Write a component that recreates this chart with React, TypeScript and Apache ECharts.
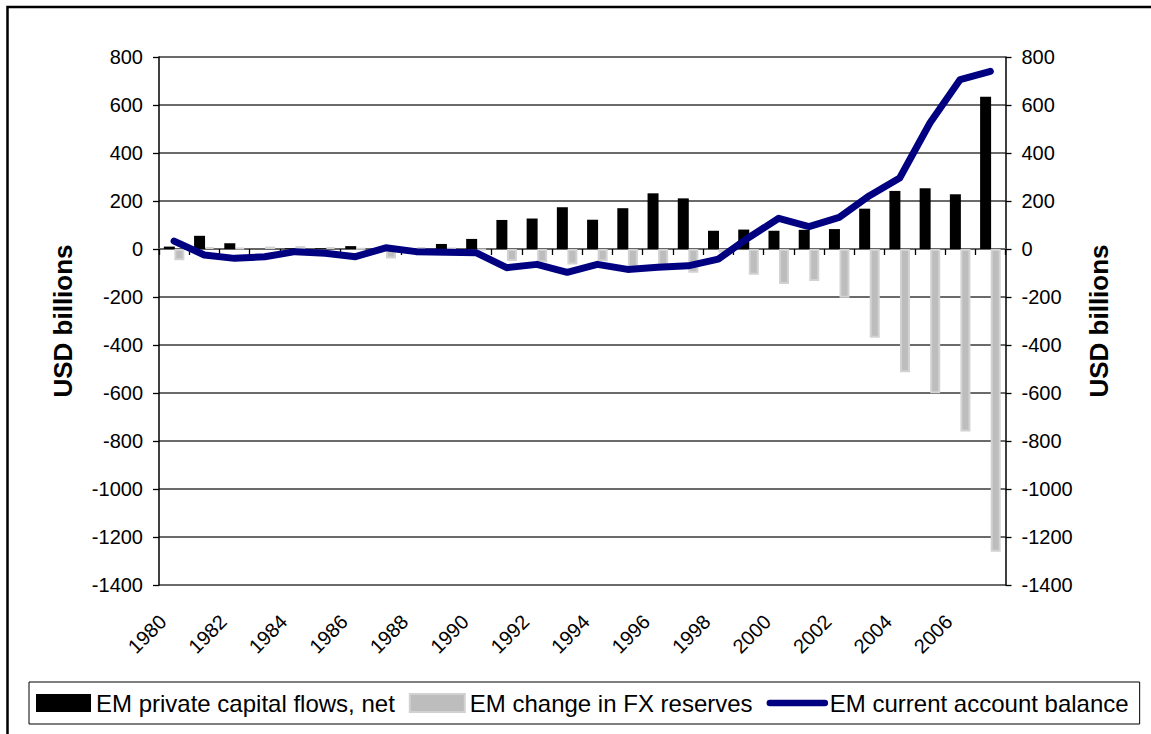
import React, { useEffect, useRef } from "react";
import * as echarts from "echarts";

const years: string[] = [
  "1980", "1981", "1982", "1983", "1984", "1985", "1986", "1987", "1988", "1989",
  "1990", "1991", "1992", "1993", "1994", "1995", "1996", "1997", "1998", "1999",
  "2000", "2001", "2002", "2003", "2004", "2005", "2006", "2007",
];

// EM private capital flows, net (USD billions)
const privateFlows: number[] = [
  10, 55, 24, 0, 3, 3, 12, 0, 0, 21,
  42, 121, 127, 174, 122, 170, 232, 211, 76, 81,
  76, 80, 83, 168, 242, 253, 228, 634,
];

// EM change in FX reserves (USD billions)
const fxReserves: number[] = [
  -47, 8, 5, 10, 12, 8, 3, -40, 8, 4,
  -5, -50, -55, -65, -51, -76, -74, -99, -15, -107,
  -146, -133, -203, -370, -514, -601, -760, -1261,
];

// EM current account balance (USD billions)
const currentAccount: number[] = [
  33, -25, -39, -32, -11, -18, -32, 5, -11, -14,
  -16, -78, -64, -97, -64, -85, -76, -70, -42, 47,
  128, 93, 132, 222, 296, 525, 706, 740,
];

const Y_MIN = -1400;
const Y_MAX = 800;
const Y_STEP = 200;

const seriesNames = [
  "EM private capital flows, net",
  "EM change in FX reserves",
  "EM current account balance",
];

const FONT = "'Liberation Sans', Arial, Helvetica, sans-serif";

export default function App() {
  const ref = useRef<HTMLDivElement>(null);

  useEffect(() => {
    if (!ref.current) return;
    const chart = echarts.init(ref.current, null, { renderer: "svg" });

    const yAxisCommon = {
      type: "value",
      min: Y_MIN,
      max: Y_MAX,
      interval: Y_STEP,
      axisLine: { show: true, lineStyle: { color: "#000", width: 1.5 } },
      axisTick: { show: true, length: 6, lineStyle: { color: "#000", width: 1.3 } },
      axisLabel: {
        fontSize: 20,
        color: "#000",
        fontFamily: FONT,
        margin: 16,
        formatter: (v: number) => String(v),
      },
      name: "USD billions",
      nameLocation: "middle",
      nameRotate: 90,
      nameTextStyle: { fontSize: 26, fontWeight: "bold", color: "#000", fontFamily: FONT },
    };

    chart.setOption({
      animation: false,
      backgroundColor: "#fff",
      textStyle: { fontFamily: FONT },
      grid: { left: 159, right: 145.5, top: 57, bottom: 149, containLabel: false },
      graphic: [
        {
          type: "rect",
          shape: { x: 7.5, y: 7, width: 1170, height: 800 },
          style: { fill: "none", stroke: "#000", lineWidth: 2.5 },
          silent: true,
          z: 0,
        },
      ],
      legend: {
        left: 29,
        top: 682,
        orient: "horizontal",
        padding: [9, 11, 9, 7],
        itemGap: 14,
        itemWidth: 55,
        itemHeight: 18,
        borderColor: "#000",
        borderWidth: 1,
        textStyle: { fontSize: 24, color: "#000", fontFamily: FONT },
        data: [
          { name: seriesNames[0], icon: "rect" },
          { name: seriesNames[1], icon: "rect" },
          {
            name: seriesNames[2],
            itemStyle: { opacity: 0 },
            lineStyle: { width: 6.5, cap: "round", color: "#000080" },
          },
        ],
      },
      xAxis: [
        {
          type: "category",
          data: years,
          position: "bottom",
          boundaryGap: true,
          axisLine: { show: false, onZero: false },
          axisTick: { show: false },
          axisLabel: {
            interval: 1,
            rotate: 45,
            fontSize: 20,
            color: "#000",
            fontFamily: FONT,
            margin: 22,
            padding: [0, 16, 0, 0],
          },
          splitLine: { show: false },
        },
        {
          type: "category",
          data: years,
          position: "bottom",
          boundaryGap: true,
          axisLine: { show: true, onZero: true, lineStyle: { color: "#666", width: 1.8 } },
          axisTick: { show: true, interval: 0, length: 6, lineStyle: { color: "#000", width: 1.3 } },
          axisLabel: { show: false },
          splitLine: { show: false },
        },
      ],
      yAxis: [
        {
          ...yAxisCommon,
          position: "left",
          nameGap: 83,
          splitLine: { show: true, lineStyle: { color: "#6a6a6a", width: 1.8 } },
        },
        {
          ...yAxisCommon,
          position: "right",
          nameGap: 80,
          splitLine: { show: false },
        },
      ],
      series: [
        {
          name: seriesNames[0],
          type: "bar",
          xAxisIndex: 0,
          yAxisIndex: 0,
          data: privateFlows,
          barWidth: 11,
          barGap: "-4%",
          itemStyle: { color: "#000" },
          z: 2,
        },
        {
          name: seriesNames[1],
          type: "bar",
          xAxisIndex: 0,
          yAxisIndex: 0,
          data: fxReserves,
          barWidth: 10,
          barGap: "-4%",
          itemStyle: { color: "#bdbdbd", borderColor: "#d2d2d2", borderWidth: 2 },
          z: 2,
        },
        {
          name: seriesNames[2],
          type: "line",
          xAxisIndex: 0,
          yAxisIndex: 0,
          data: currentAccount,
          symbol: "none",
          lineStyle: { color: "#000080", width: 7, cap: "round", join: "round" },
          itemStyle: { color: "#000080" },
          z: 5,
        },
      ],
    });

    return () => chart.dispose();
  }, []);

  return (
    <div
      ref={ref}
      style={{ position: "fixed", left: 0, top: 0, width: 1151, height: 734, background: "#fff" }}
    />
  );
}
